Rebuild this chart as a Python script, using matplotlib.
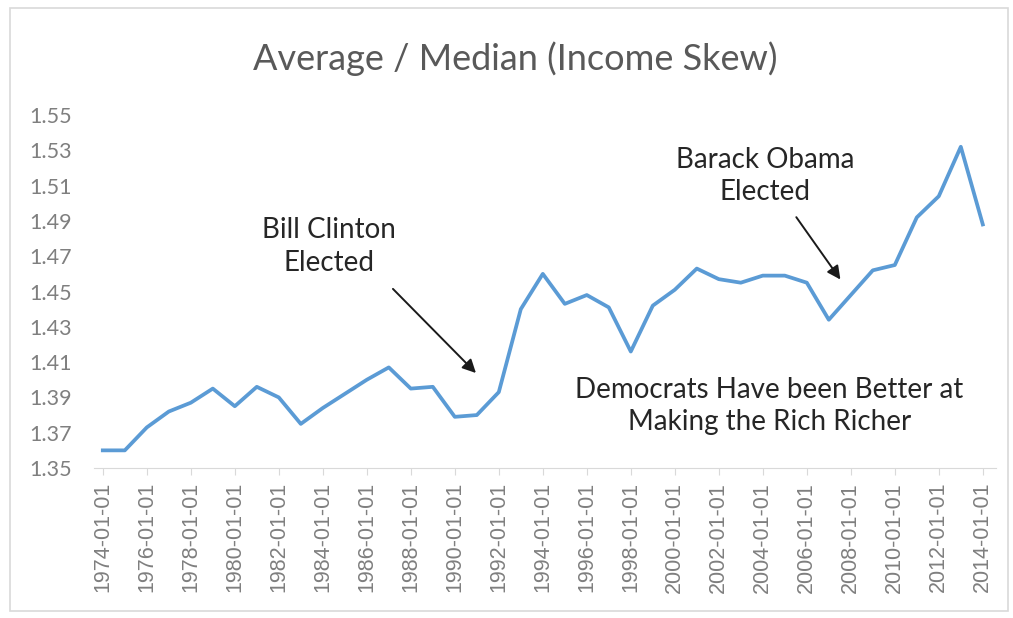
import matplotlib
matplotlib.use('Agg')
import matplotlib.pyplot as plt
from matplotlib.patches import Rectangle
import numpy as np

# yearly data points, 1974 .. 2014
years = list(range(1974, 2015))
skew = [1.360, 1.360, 1.373, 1.382, 1.387, 1.395, 1.385, 1.396, 1.390, 1.375,
        1.384, 1.392, 1.400, 1.407, 1.395, 1.396, 1.379, 1.380, 1.393, 1.440,
        1.460, 1.443, 1.448, 1.441, 1.416, 1.442, 1.451, 1.463, 1.457, 1.455,
        1.459, 1.459, 1.455, 1.434, 1.448, 1.462, 1.465, 1.492, 1.504, 1.532,
        1.488]
date_labels = ['%d-01-01' % y for y in years]
y_ticks = [1.35, 1.37, 1.39, 1.41, 1.43, 1.45, 1.47, 1.49, 1.51, 1.53, 1.55]

fig = plt.figure(figsize=(10.13, 6.18), dpi=100)
ax = fig.add_axes([94/1013, 0.2427, (996-94)/1013, 0.8139-0.2427])

x = np.arange(len(years))
ax.plot(x, skew, color='#5B9BD5', lw=2.7, solid_joinstyle='round')

ax.set_xlim(-0.4, len(years) - 0.4)
ax.set_ylim(1.35, 1.55)
ax.set_yticks(y_ticks)
ax.set_yticklabels(['%.2f' % v for v in y_ticks], fontfamily='Lato',
                   fontsize=15.5, color='#7f7f7f')
ax.set_xticks(x[::2])
ax.set_xticklabels(date_labels[::2], rotation=90, fontfamily='Liberation Sans',
                   fontsize=15.5, color='#7f7f7f')
ax.tick_params(axis='y', length=0, pad=16)
ax.tick_params(axis='x', length=5, color='#d9d9d9', pad=5)

for s in ['top', 'right', 'left']:
    ax.spines[s].set_visible(False)
ax.spines['bottom'].set_color('#d9d9d9')

fig.text(0.509, 0.905, 'Average / Median (Income Skew)', ha='center',
         va='center', fontfamily='Lato', fontsize=26, color='#595959')

ann = dict(fontfamily='Lato', fontsize=20, color='#262626', ha='center',
           va='center', linespacing=1.3)
arr = dict(arrowstyle='-|>', color='#1a1a1a', lw=1.4, mutation_scale=20)

ax.text(10.3, 1.4755, 'Bill Clinton\nElected', **ann)
ax.annotate('', xy=(17.05, 1.4027), xytext=(13.1, 1.4526), arrowprops=arr)

ax.text(30.1, 1.5155, 'Barack Obama\nElected', **ann)
ax.annotate('', xy=(33.6, 1.4555), xytext=(31.45, 1.4934), arrowprops=arr)

ax.text(30.3, 1.385, 'Democrats Have been Better at\nMaking the Rich Richer', **ann)

fig.patches.append(Rectangle((0.01, 0.012), 0.985, 0.975, transform=fig.transFigure,
                             fill=False, edgecolor='#d9d9d9', lw=1.2))

fig.savefig('out.png', dpi=100)
